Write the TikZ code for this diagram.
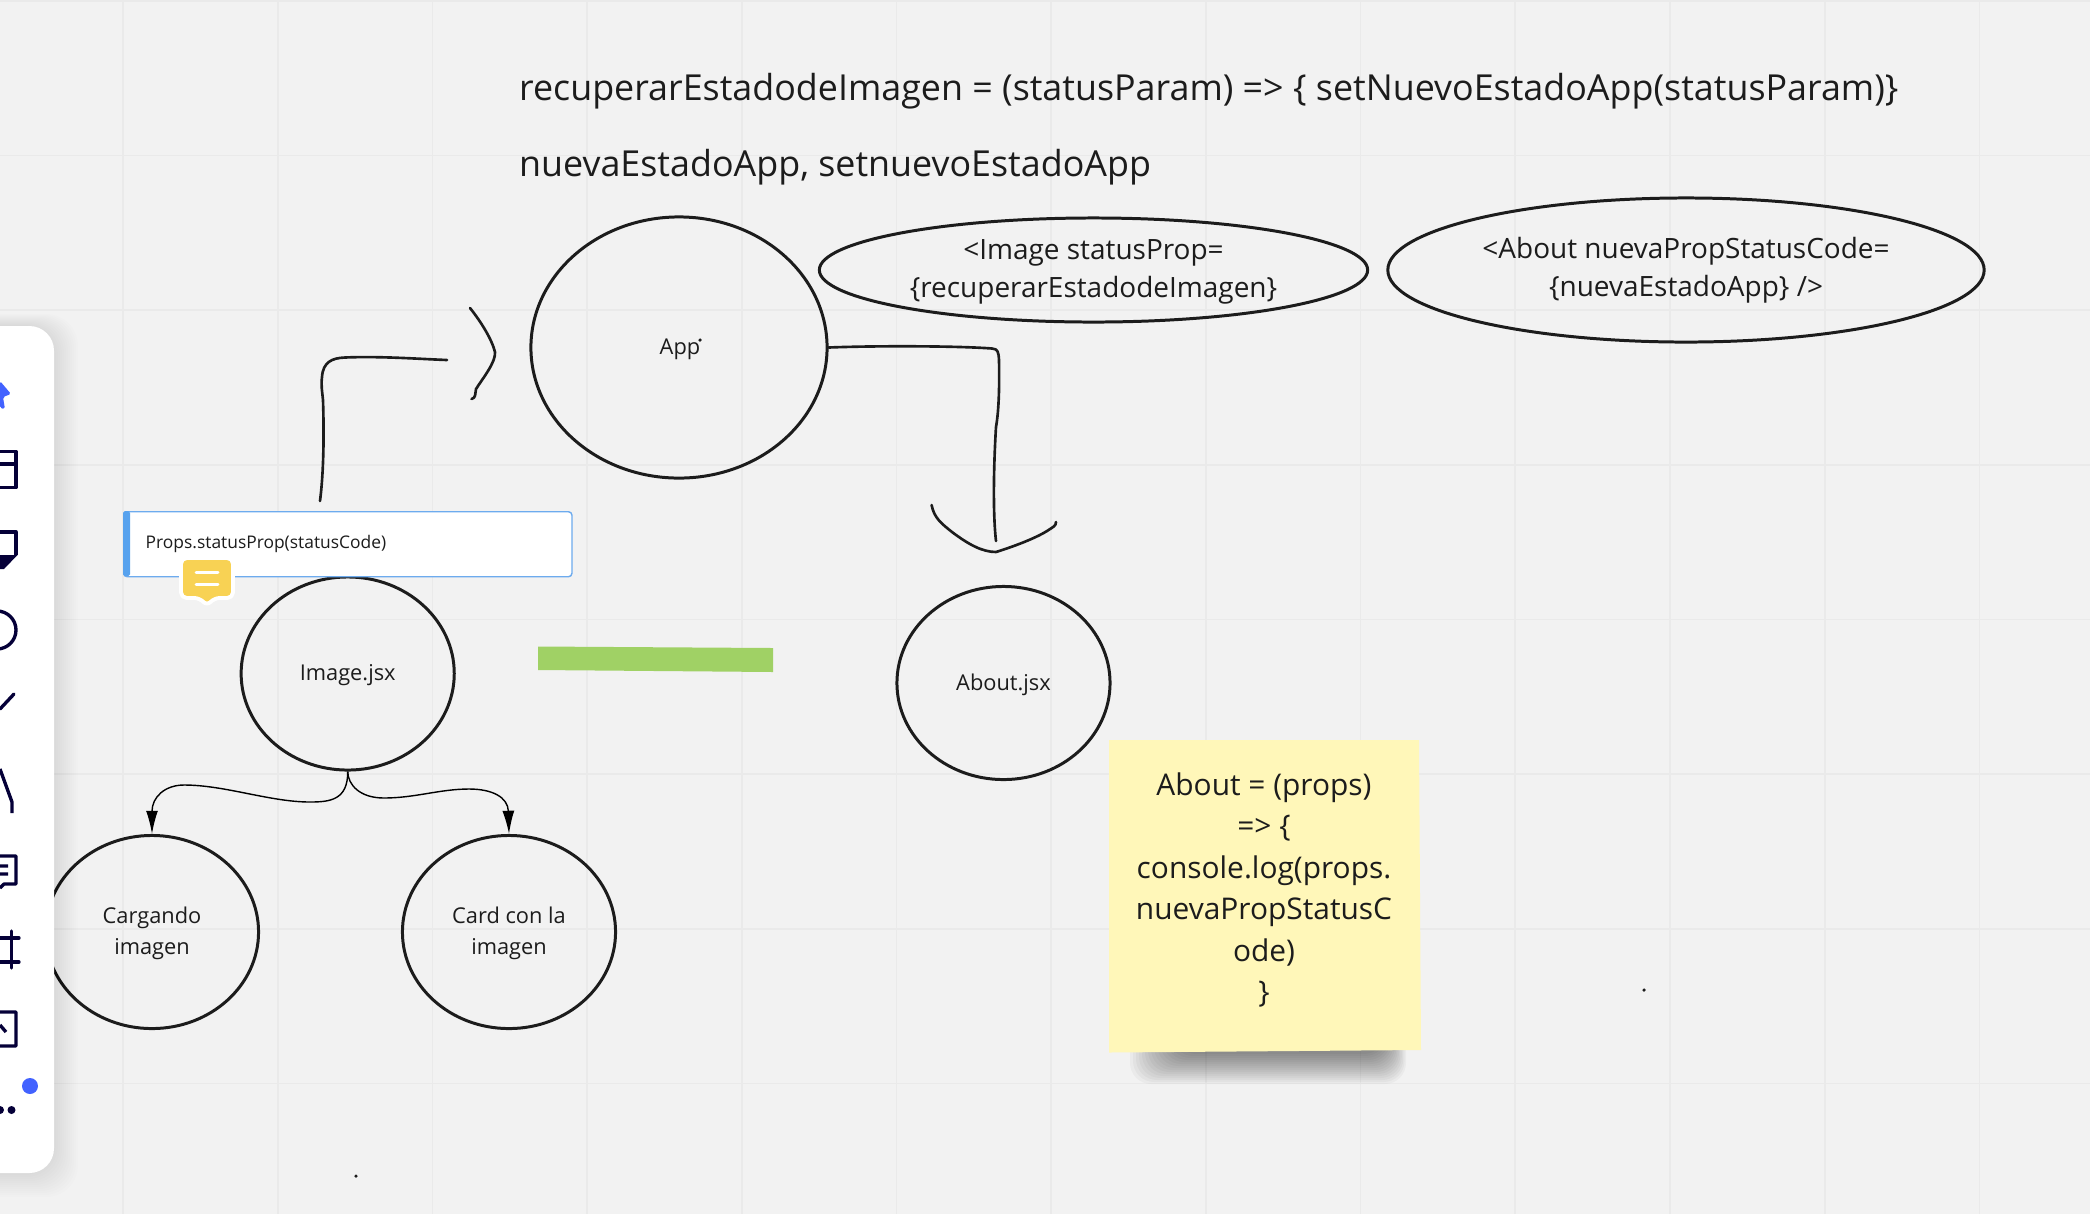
\documentclass[tikz,border=0pt]{standalone}
\usepackage{fontspec}
\setmainfont{Open Sans}
\usetikzlibrary{shapes.geometric,arrows.meta}
\pgfdeclarelayer{background}
\pgfsetlayers{background,main}
\definecolor{boardbg}{HTML}{F2F2F2}
\definecolor{gridline}{HTML}{EAEAEA}
\definecolor{ink}{HTML}{1C1C1C}
\definecolor{toolnavy}{HTML}{050038}
\definecolor{toolblue}{HTML}{4262FF}
\definecolor{cardblue}{HTML}{6DABEE}
\definecolor{cardbar}{HTML}{57A2EE}
\definecolor{chatyellow}{HTML}{F8D254}
\definecolor{stickyyellow}{HTML}{FFF7B9}
\definecolor{tapegreen}{HTML}{A0D165}
\def\circlelist{{(347.7,673.5)/image/Image.jsx}, {(1003.5,683)/about/About.jsx}, {(152,932)/cargando/Cargando\\imagen}, {(509,932)/card/Card con la\\imagen}}
\def\bigtext{\fontsize{10.19}{13}\selectfont}
\def\midtext{\fontsize{7.95}{10.8}\selectfont}
\def\smalltext{\fontsize{6.2}{8.8}\selectfont}
\tikzstyle{bubble}=[ellipse,draw=ink,line width=0.85pt,inner sep=0pt]
\tikzstyle{jsx-bubble}=[bubble,minimum width=2.13cm,minimum height=1.93cm]
\tikzstyle{bubble-label}=[text=ink,inner sep=0pt,align=center,font=\smalltext]
\tikzstyle{sketch}=[draw=ink,line width=0.75pt,line cap=round,line join=round]
\tikzstyle{branch}=[draw=black,line width=0.4pt,-{Latex[length=6.6pt,width=3.4pt]}]
\tikzstyle{headline}=[anchor=west,inner sep=0pt,text=ink,font=\bigtext]
\tikzstyle{tool}=[draw=toolnavy,line width=0.95pt,line join=round]
\tikzstyle{speck}=[circle,fill=ink,minimum size=1pt,inner sep=0pt]

\begin{document}
\begin{tikzpicture}[x=0.01cm,y=-0.01cm]
  \path[use as bounding box,clip] (0,0) rectangle (2090,1214);

  % Make the background
  \begin{pgfonlayer}{background}
    \fill[boardbg] (0,0) rectangle (2090,1214);
    \foreach \i in {0,...,12}
      \draw[gridline,line width=0.5pt] ({123+154.7*\i},0) -- ({123+154.7*\i},1214);
    \foreach \i in {0,...,7}
      \draw[gridline,line width=0.5pt] (0,{0.7+154.7*\i}) -- (2090,{0.7+154.7*\i});
    % Shadow of the sticky note
    \foreach \grow in {0,2,...,30}
      \fill[black,opacity=0.032,rounded corners=6] ({1175-1.5*\grow},1030) rectangle ({1385+0.7*\grow},{1054+\grow});
  \end{pgfonlayer}

  % First we draw the two lines at the top
  \node[headline] (recuperar) at (518.5,91.5) {recuperarEstadodeImagen = (statusParam) => \{ setNuevoEstadoApp(statusParam)\}};
  \node[headline] (nueva) at (518.5,167.5) {nuevaEstadoApp, setnuevoEstadoApp};

  % The bubbles
  \node[bubble,minimum width=2.96cm,minimum height=2.61cm] (app) at (679,347.5) {};
  \node[bubble-label] (applabel) at (680,349) {App};
  \node[speck] (appmark) at (700,340) {};
  \node[bubble,minimum width=5.48cm,minimum height=1.04cm] (imagecode) at (1093.5,270) {};
  \node[bubble-label,font=\midtext] (imagelabel) at (1093.5,272) {<Image statusProp=\\\{recuperarEstadodeImagen\}};
  \node[bubble,minimum width=5.96cm,minimum height=1.44cm] (aboutcode) at (1686,270) {};
  \node[bubble-label,font=\midtext] (aboutlabel) at (1686,270) {<About nuevaPropStatusCode=\\\{nuevaEstadoApp\} />};
  \foreach \pos/\name/\label in \circlelist {
    \node[jsx-bubble] (\name) at \pos {};
    \node[bubble-label] (\name-label) at ([yshift=-0.5pt]\name.center) {\label};
  }

  % The card above Image.jsx
  \node[draw=cardblue,fill=white,line width=0.4pt,rounded corners=1pt,minimum width=4.48cm,minimum height=0.65cm,
        anchor=north west,inner sep=0pt] (props) at (123,511) {};
  \fill[cardbar,rounded corners=0.5pt] (props.north west) rectangle (130,576);
  \node[anchor=west,inner sep=0pt,text=ink,font=\fontsize{4.95}{6}\selectfont] (propstext) at (145,544) {Props.statusProp(statusCode)};

  % The comment badge
  \draw[white,line width=1.1pt,fill=chatyellow,rounded corners=1.6pt,line join=round]
    (181,558) -- (233,558) -- (233,598) -- (214,598) -- (207,606) -- (200,598) -- (181,598) -- cycle;
  \foreach \y in {572,584}
    \draw[white,line width=0.85pt,line cap=round] (196,\y) -- (218,\y);

  % The green strip
  \fill[tapegreen] (538,646.5) -- (773,648) -- (773,672) -- (538,670) -- cycle;

  % The sticky note
  \fill[stickyyellow] (1109,740) -- (1419,740) -- (1421,1050) -- (1109,1052.5) -- cycle;
  \node[align=center,inner sep=0pt,text=ink,font=\fontsize{8.5}{11.82}\selectfont] (stickytext) at (1264,890)
    {About = (props)\\=> \{\\console.log(props.\\nuevaPropStatusC\\ode)\\\}};

  % Connect the bubbles
  \path[branch] (image.south) .. controls (348,800) and (330,802) .. (310,802)
    .. controls (270,802) and (225,785) .. (184,785)
    .. controls (165,785) and (152,797) .. (cargando.north);
  \path[branch] (image.south) .. controls (348,785) and (360,798) .. (384,798)
    .. controls (415,798) and (440,789) .. (469,789)
    .. controls (492,789) and (508,797) .. (card.north);

  % The hand drawn lines
  \coordinate (propsup) at (320,501);
  \coordinate (bracketin) at (447,360);
  \coordinate (aboutin) at (996,541);
  \path[sketch] (propsup) .. controls (324,470) and (324,430) .. (323,400)
    .. controls (322,390) and (321,385) .. (322,377)
    .. controls (323,362) and (332,358) .. (345,357.5)
    .. controls (380,356) and (420,359) .. (bracketin);
  \path[sketch] (470,308) .. controls (482,323) and (492,340) .. (495,352)
    .. controls (496,362) and (483,378) .. (476,389)
    .. controls (475,394) and (476,398) .. (471.5,399);
  \path[sketch] (app.east) .. controls (880,345.5) and (960,346) .. (992,348.5)
    .. controls (998,349) and (998.5,352) .. (999,360)
    .. controls (999.5,385) and (999,410) .. (996,427)
    .. controls (994,460) and (992.5,510) .. (aboutin);
  \path[sketch] (931.6,505) .. controls (934,518) and (942,524) .. (952,532)
    .. controls (968,544) and (982,552) .. (996,552)
    .. controls (1012,547) and (1034,539) .. (1047,531)
    .. controls (1053,527) and (1056,526) .. (1056,522);

  % The specks
  \node[speck] (speckright) at (1644,990) {};
  \node[speck] (specklow) at (356,1176) {};

  % The tool panel
  \foreach \grow in {0,2,...,24}
    \fill[black,opacity=0.009,rounded corners=9] (-30,{326-\grow/2}) rectangle ({54+\grow},{1173+\grow});
  \fill[white,rounded corners=7] (-30,326) rectangle (54,1173);

  % The tools, cut by the edge of the page
  \fill[toolblue,rounded corners=0.5pt] (0,381) -- (11,394) -- (3,397) -- (5,409) -- (0,408) -- cycle;
  \draw[tool] (0,451.5) -- (16,451.5) -- (16,487.5) -- (0,487.5) (0,464) -- (16,464);
  \draw[tool] (0,532) -- (16,532) -- (16,555);
  \fill[toolnavy] (0,555) -- (17.5,555) -- (4,569) -- (0,569) -- cycle;
  \draw[tool] (-3,630) circle (19);
  \draw[tool,line cap=round] (14,694) -- (0,709);
  \draw[tool] (0,769) -- (12,802) -- (12,813);
  \draw[tool] (0,856) -- (16,856) -- (16,884) -- (4,884) -- (0,888) (0,866) -- (8,866) (0,874) -- (8,874);
  \draw[tool,line cap=round] (11.5,931) -- (11.5,968) (0,938) -- (19,938) (0,962) -- (19,962);
  \draw[tool] (0,1012) -- (16,1012) -- (16,1046) -- (0,1046) (0,1025) -- (6,1032);
  \fill[toolnavy] (11.5,1110) circle (4) (0,1110) circle (4);
  \fill[toolblue] (30,1086) circle (8);
\end{tikzpicture}
\end{document}
